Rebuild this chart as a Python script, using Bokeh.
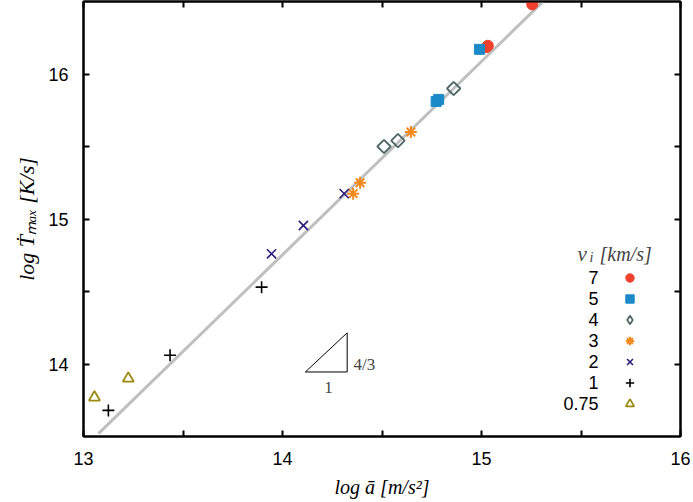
import math
from bokeh.plotting import figure
from bokeh.models import Range1d, LinearAxis, FixedTicker, Label, Legend, LegendItem
from bokeh.embed import file_html
from bokeh.resources import INLINE

# ---- data (log a, log Tdot_max) per impact velocity ----
v7_x = [15.255, 15.025, 15.032]
v7_y = [16.48, 16.185, 16.195]
v5_x = [14.99, 14.772, 14.785]
v5_y = [16.17, 15.81, 15.825]
v4_x = [14.86, 14.51, 14.58]
v4_y = [15.90, 15.50, 15.54]
v3_x = [14.645, 14.39, 14.355]
v3_y = [15.60, 15.25, 15.175]
v2_x = [14.31, 14.105, 13.945]
v2_y = [15.175, 14.955, 14.76]
v1_x = [13.895, 13.435, 13.125]
v1_y = [14.53, 14.06, 13.68]
v075_x = [13.055, 13.225]
v075_y = [13.77, 13.90]

fit_x = [13.075, 15.31]
fit_y = [13.52, 16.50]

tri_x = [14.115, 14.325, 14.325, 14.115]
tri_y = [13.945, 13.945, 14.215, 13.945]

legend_labels = ["7", "5", "4", "3", "2", "1", "0.75"]
x_ticks = [13, 14, 15, 16]
x_minor = [13.5, 14.5, 15.5]
y_ticks = [14, 15, 16]
y_minor = [14.5, 15.5]

SERIF = "Liberation Serif"
SANS = "Liberation Sans"

p = figure(width=693, height=502, x_range=Range1d(13, 16), y_range=Range1d(13.5, 16.5),
           output_backend="svg", toolbar_location=None,
           min_border_left=83, min_border_right=13, min_border_top=1, min_border_bottom=66)
p.xgrid.visible = False
p.ygrid.visible = False
p.outline_line_color = "black"
p.outline_line_width = 2
p.background_fill_color = "white"

bottom_ax = p.xaxis[0]
left_ax = p.yaxis[0]

def style_axis(ax, ticks, minor, show_labels=True):
    if show_labels:
        ax.ticker = FixedTicker(ticks=ticks, minor_ticks=minor)
        ax.major_label_text_font = SANS
        ax.major_label_text_font_size = "18px"
        ax.major_label_text_color = "black"
        ax.major_label_standoff = 15
    else:
        # mirror axes: all ticks are unlabelled minor ticks
        ax.ticker = FixedTicker(ticks=[], minor_ticks=sorted(ticks + minor))
        ax.major_label_standoff = 0
    ax.axis_line_color = "black"
    ax.axis_line_width = 2
    ax.major_tick_in = 6
    ax.major_tick_out = 0
    ax.minor_tick_in = 6
    ax.minor_tick_out = 0
    ax.major_tick_line_width = 2
    ax.minor_tick_line_width = 2
    ax.major_tick_line_color = "black"
    ax.minor_tick_line_color = "black"

style_axis(bottom_ax, x_ticks, x_minor)
style_axis(left_ax, y_ticks, y_minor)

# axis titles
bottom_ax.axis_label = "log ā [m/s²]"
bottom_ax.axis_label_text_font = SERIF
bottom_ax.axis_label_text_font_style = "italic"
bottom_ax.axis_label_text_font_size = "20px"
bottom_ax.axis_label_text_color = "black"
bottom_ax.axis_label_standoff = 8
left_ax.axis_label = "log Ṫₘₐₓ [K/s]"
left_ax.axis_label_text_font = SERIF
left_ax.axis_label_text_font_style = "italic"
left_ax.axis_label_text_font_size = "22px"
left_ax.axis_label_text_color = "black"
left_ax.axis_label_standoff = 6

top_ax = LinearAxis()
right_ax = LinearAxis()
style_axis(top_ax, x_ticks, x_minor, False)
style_axis(right_ax, y_ticks, y_minor, False)
p.add_layout(top_ax, "above")
p.add_layout(right_ax, "right")

# fit line
p.line(fit_x, fit_y, line_color="#BFBFBF", line_width=3)

# slope triangle
p.line(tri_x, tri_y, line_color="black", line_width=1)

r7 = p.scatter(v7_x, v7_y, marker="circle", size=11, fill_color="#F0412E", line_color="#F0412E")
r5 = p.scatter(v5_x, v5_y, marker="square", size=10, fill_color="#1A8AC8", line_color="#1A8AC8")
r4 = p.scatter(v4_x, v4_y, marker="square", angle=math.pi / 4, size=9.5, fill_color=None,
               line_color="#4D6666", line_width=1.8)
r3 = p.scatter(v3_x, v3_y, marker="asterisk", size=12, line_color="#F58A1F", line_width=2)
r2 = p.scatter(v2_x, v2_y, marker="x", size=13, line_color="#2B1C7A", line_width=1.6)
r1 = p.scatter(v1_x, v1_y, marker="cross", size=12, line_color="black", line_width=1.6)
r075 = p.scatter(v075_x, v075_y, marker="triangle", size=11, fill_color=None,
                 line_color="#9C8A0F", line_width=1.8)

# hidden legend proxy for the open diamond (legend glyphs are drawn unrotated)
r4_leg = p.scatter(v4_x, v4_y, marker="diamond", size=12, fill_color=None,
                   line_color="#4D6666", line_width=1.8, visible=False)

legend_renderers = [r7, r5, r4_leg, r3, r2, r1, r075]
legend = Legend(items=[LegendItem(label="", renderers=[r]) for r in legend_renderers],
                location=(536, 22), padding=0, margin=0, spacing=0,
                glyph_height=21, glyph_width=21, label_width=0, label_standoff=0,
                label_text_font_size="10px", border_line_color=None,
                background_fill_alpha=0, inactive_fill_alpha=0)
p.add_layout(legend)

# legend numbers (to the left of the symbols)
for i, lab in enumerate(legend_labels):
    p.add_layout(Label(x=515, y=436 - 277 - 21 * i, x_units="screen", y_units="screen",
                       text=lab, text_align="right", text_baseline="middle",
                       text_font=SANS, text_font_size="18px", text_color="black"))

# legend title  v_i [km/s]
p.add_layout(Label(x=494, y=183, x_units="screen", y_units="screen", text="v",
                   text_font=SERIF, text_font_style="italic", text_font_size="21px",
                   text_baseline="alphabetic"))
p.add_layout(Label(x=506, y=179, x_units="screen", y_units="screen", text="i",
                   text_font=SERIF, text_font_style="italic", text_font_size="14px",
                   text_baseline="alphabetic"))
p.add_layout(Label(x=516, y=183, x_units="screen", y_units="screen", text="[km/s]",
                   text_font=SERIF, text_font_style="italic", text_font_size="20px",
                   text_baseline="alphabetic"))

# slope triangle labels
p.add_layout(Label(x=270, y=72, x_units="screen", y_units="screen", text="4/3",
                   text_font=SERIF, text_font_size="17px", text_baseline="middle",
                   text_align="left"))
p.add_layout(Label(x=245, y=49, x_units="screen", y_units="screen", text="1",
                   text_font=SERIF, text_font_size="17px", text_baseline="middle",
                   text_align="center"))

open("out.html", "w").write(file_html(p, INLINE))
